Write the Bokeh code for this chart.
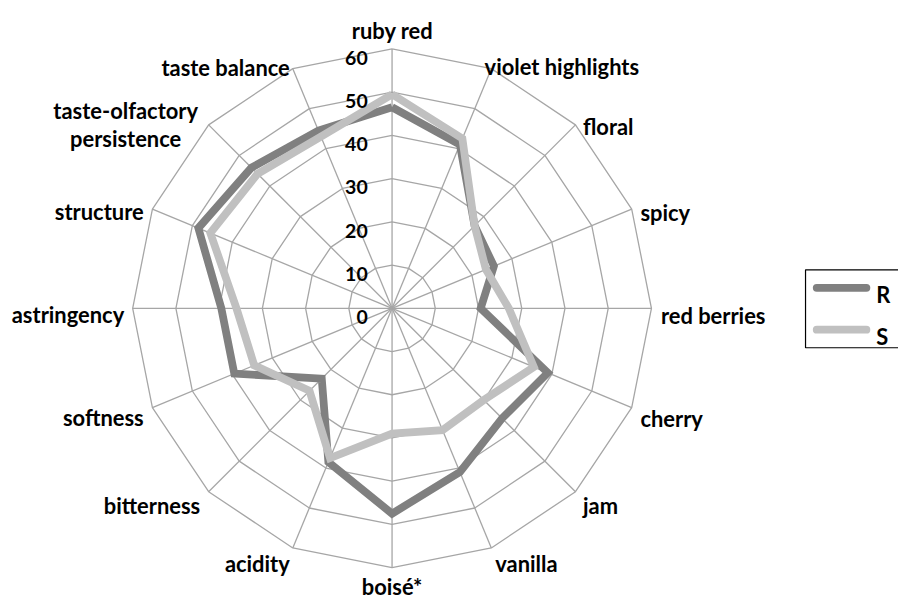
import math
from bokeh.plotting import figure
from bokeh.models import Range1d
from bokeh.core.properties import value
from bokeh.embed import file_html
from bokeh.resources import INLINE

# ---------------- data ----------------
categories = ["ruby red", "violet highlights", "floral", "spicy", "red berries",
              "cherry", "jam", "vanilla", "boisé*", "acidity", "bitterness",
              "softness", "astringency", "structure",
              "taste-olfactory\npersistence", "taste balance"]
series_R = [46.5, 41, 27, 25.5, 20.5, 39, 36, 41, 47.5, 38.5, 23, 39.5, 39.5, 48.5, 46, 44.5]
series_S = [49.5, 42.5, 27, 23.5, 27, 35.5, 30, 30.5, 29, 37.5, 27, 34.5, 36, 45.5, 44, 43]
tick_values = [0, 10, 20, 30, 40, 50, 60]
tick_labels = ["0", "10", "20", "30", "40", "50", "60"]
series_names = ["R", "S"]

# ---------------- layout / style ----------------
W, H = 898, 600
REF_H = 616.0
K = H / REF_H                   # design units -> px
CX, CY = 402.0, 316.0          # centre (design units)
RMAX = 266.3                    # radius of the 60 ring
VMAX = 60.0
FONT = value("Lato")
CAT_FS = value("%.1fpx" % (22.5 * K))
TICK_FS = value("%.1fpx" % (20 * K))
C_R = "#808080"
C_S = "#C0C0C0"
GRID = "#A6A6A6"

# label anchors (design units): x, baseline y, align
label_layout = [
    (402.5, 31, "center"), (497, 68, "left"), (598, 129, "left"), (657, 218, "left"),
    (678, 323, "left"), (657, 429, "left"), (598, 518, "left"), (508, 578, "left"),
    (402, 602, "center"), (297, 578, "right"), (205, 518, "right"), (147, 428, "right"),
    (127, 322, "right"), (147, 217, "right"), (128.5, 113, "center"), (297, 69, "right"),
]
LINE_GAP = 29

n = len(categories)
angles = [2 * math.pi * i / n for i in range(n)]


def pt(v, a):
    r = v / VMAX * RMAX
    return CX + r * math.sin(a), CY - r * math.cos(a)


p = figure(width=W, height=H, output_backend="svg", toolbar_location=None,
           x_range=Range1d(0, W / K), y_range=Range1d(REF_H, 0),
           min_border=0, outline_line_color=None)
p.axis.visible = False
p.grid.visible = False
p.background_fill_color = "white"
p.border_fill_color = "white"

# rings
for tv in tick_values[1:]:
    xs = [pt(tv, a)[0] for a in angles] + [pt(tv, angles[0])[0]]
    ys = [pt(tv, a)[1] for a in angles] + [pt(tv, angles[0])[1]]
    p.line(xs, ys, line_color=GRID, line_width=1.3)
# spokes
sx0, sy0, sx1, sy1 = [], [], [], []
for a in angles:
    x1, y1 = pt(VMAX, a)
    sx0.append(CX); sy0.append(CY); sx1.append(x1); sy1.append(y1)
p.segment(sx0, sy0, sx1, sy1, line_color=GRID, line_width=1.3)

# series
for vals, col in ((series_R, C_R), (series_S, C_S)):
    xs = [pt(v, a)[0] for v, a in zip(vals, angles)]
    ys = [pt(v, a)[1] for v, a in zip(vals, angles)]
    xs.append(xs[0]); ys.append(ys[0])
    p.line(xs, ys, line_color=col, line_width=8 * K, line_join="miter")

# tick labels
tx = [CX - 25] * len(tick_values)
ty = [pt(tv, 0)[1] + 9 for tv in tick_values]
p.text(tx, ty, text=tick_labels, text_font=FONT, text_font_size=TICK_FS,
       text_font_style="bold", text_align="right", text_baseline="alphabetic",
       text_color="black")

# category labels
groups = {"left": ([], [], []), "right": ([], [], []), "center": ([], [], [])}
for cat, (lx, ly, al) in zip(categories, label_layout):
    for k, line in enumerate(cat.split("\n")):
        g = groups[al]
        g[0].append(lx); g[1].append(ly + k * LINE_GAP); g[2].append(line)
for al, (gx, gy, gt) in groups.items():
    if gt:
        p.text(gx, gy, text=gt, text_font=FONT, text_font_size=CAT_FS,
               text_font_style="bold", text_align=al, text_baseline="alphabetic",
               text_color="black")

# legend (manual)
LEG_L, LEG_R, LEG_T, LEG_B = 826.5, 960, 276.5, 356.5
p.quad(left=[LEG_L], right=[LEG_R], top=[LEG_T], bottom=[LEG_B],
       fill_color=None, line_color="black", line_width=1.2)
leg_y = [295, 338]
for name, col, yy in zip(series_names, (C_R, C_S), leg_y):
    p.line([838, 889], [yy, yy], line_color=col, line_width=8 * K, line_cap="round")
    p.text([899], [yy + 7], text=[name], text_font=FONT, text_font_size=CAT_FS,
           text_font_style="bold", text_align="left", text_baseline="alphabetic",
           text_color="black")

open("out.html", "w").write(file_html(p, INLINE))
